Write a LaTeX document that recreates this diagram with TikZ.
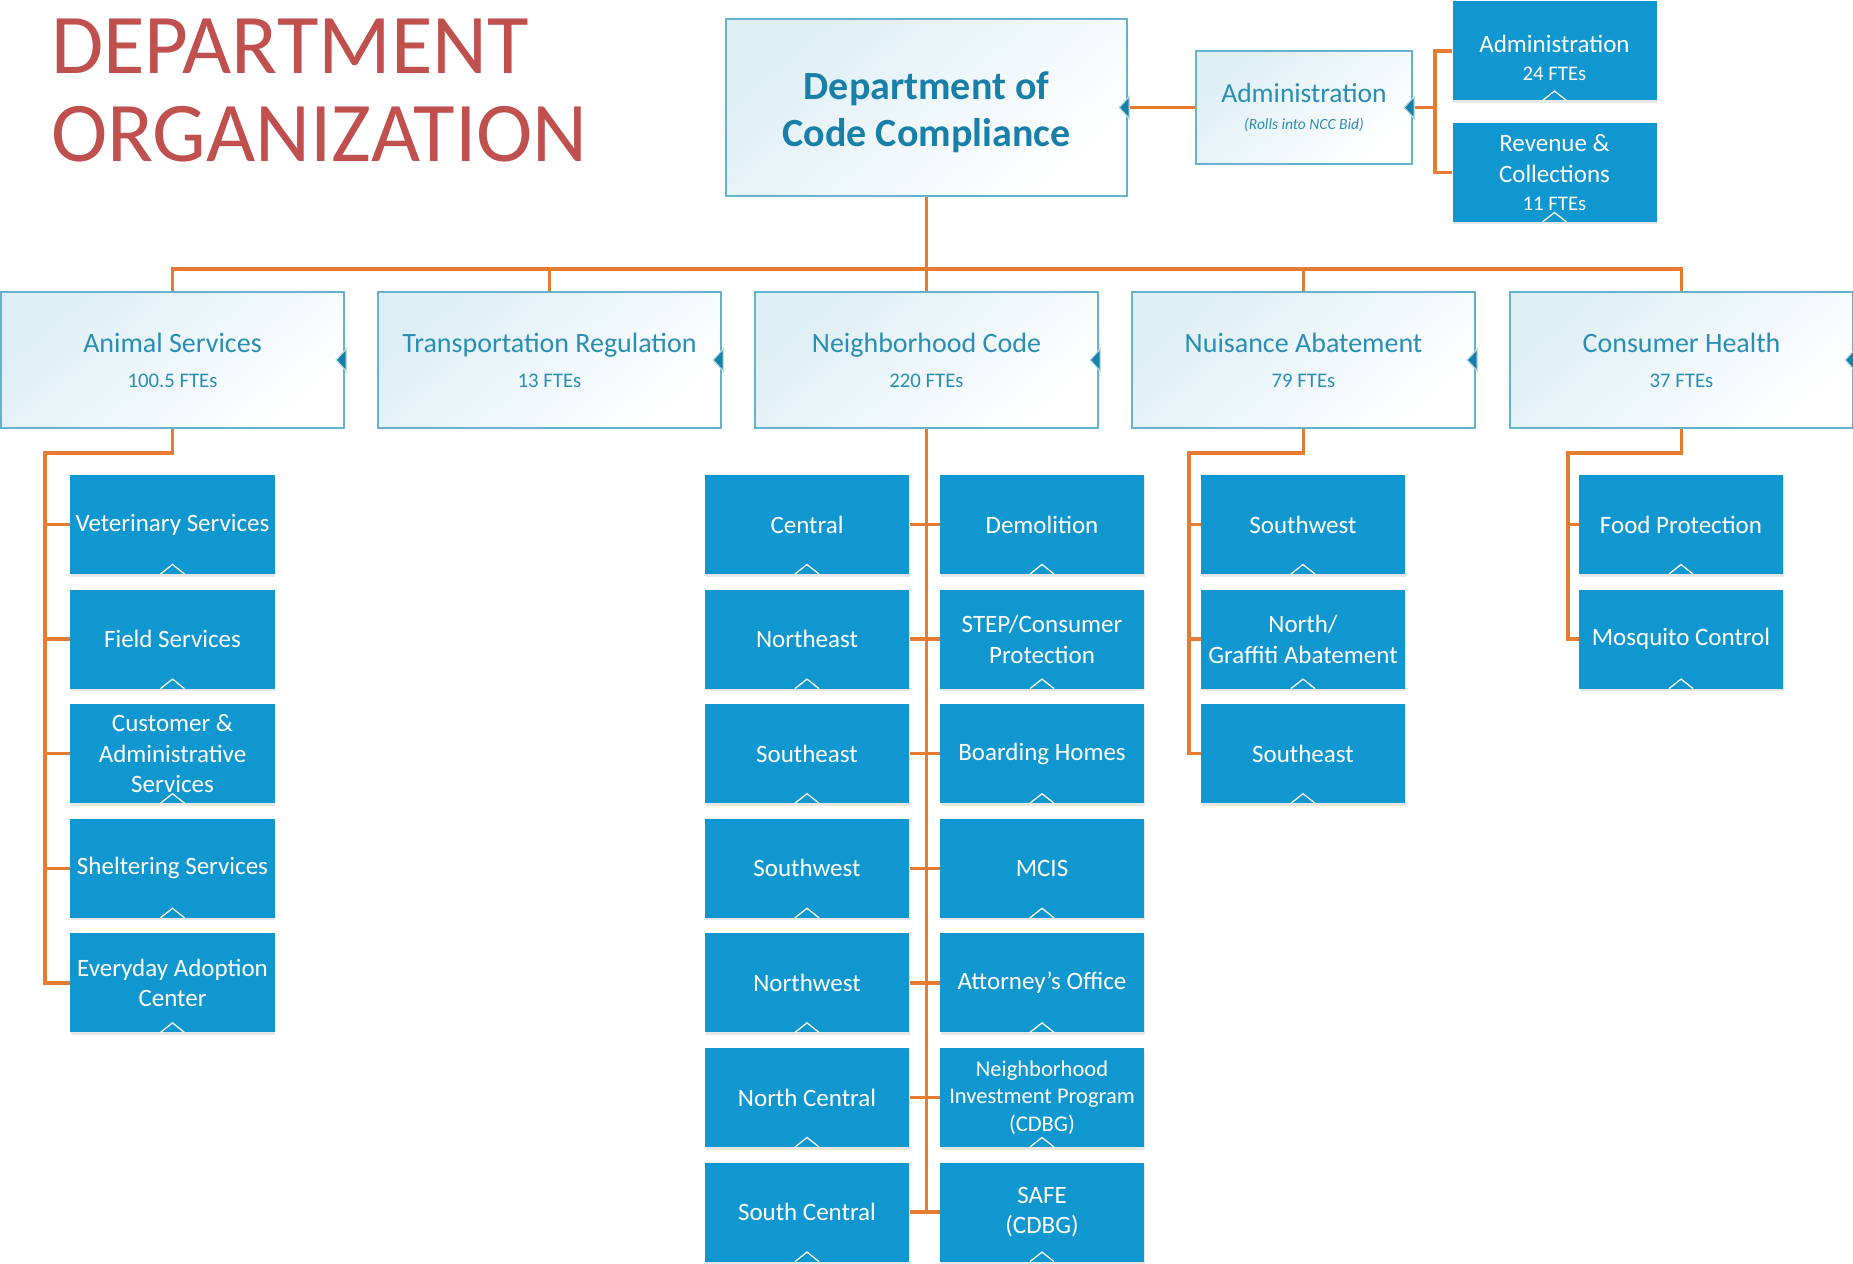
\documentclass[tikz,border=0pt]{standalone}
\usepackage{fontspec}
\setmainfont{Carlito}
\usepackage{tikz}
\usetikzlibrary{shadows}
\definecolor{ccorange}{RGB}{229,124,50}
\definecolor{ccblue}{RGB}{17,151,208}
\definecolor{ccedge}{RGB}{100,178,205}
\definecolor{cctext}{RGB}{40,142,182}
\definecolor{ccdark}{RGB}{24,128,168}
\definecolor{ccred}{RGB}{192,80,77}
\newcommand\fte[1]{\\[-1pt]{\fontsize{8.3}{10}\selectfont#1 FTEs}}

\begin{document}
\begin{tikzpicture}[x=0.4pt,y=-0.4pt,inner sep=0pt]
  \useasboundingbox(0,0)rectangle(1853,1264);
  \tikzstyle{h}=[rectangle,draw=ccedge,line width=0.9pt,top color=ccedge!22,bottom color=white,shading angle=40,text=cctext,align=center,minimum width=137.2pt,minimum height=54.4pt]
  \tikzstyle{c}=[rectangle,fill=ccblue,text=white,align=center,minimum width=81.6pt,minimum height=39.6pt,font=\fontsize{10}{12.3}\selectfont,drop shadow={shadow xshift=0.3pt,shadow yshift=-1pt,opacity=0.2},path picture={\draw[white,line width=0.5pt]([xshift=-4.8pt]path picture bounding box.south)--++(4.8pt,3.8pt)--++(4.8pt,-3.8pt);}]
  \tikzstyle{cs}=[c,font=\fontsize{9}{11.1}\selectfont]
  \tikzstyle{e}=[draw=ccorange,line width=1.4pt]
  \tikzstyle{m}=[fill=ccdark,draw=ccedge!45,line width=0.5pt]
  % title
  \node[anchor=north west,text=ccred,align=left,font=\fontsize{34}{35}\selectfont](title)at(50.5,18.5){DEPARTMENT\\ORGANIZATION};
  % department and administration
  \node[h,minimum width=160.4pt,minimum height=70.8pt,text=ccdark,text height=34pt,font=\bfseries\fontsize{16}{19}\selectfont](dcc)at(926.5,107.5){Department of\\Code Compliance};
  \node[h,minimum width=86.4pt,minimum height=45.2pt,font=\fontsize{11}{11}\selectfont](adm)at(1304,107.5){Administration\\{\fontsize{6.2}{7}\itshape(Rolls into NCC Bid)}};
  \node[c,text height=23.9pt](admsub)at(1554.5,51){Administration\fte{24}};
  \node[c](rev)at(1554.5,172.5){Revenue \&\\Collections\fte{11}};
  % divisions
  \foreach\n/\x/\l/\f in{anim/172.5/Animal Services/100.5,trans/549.5/Transportation Regulation/13,nbh/926.5/Neighborhood Code/220,nuis/1303.5/Nuisance Abatement/79,cons/1681.5/Consumer Health/37}{\node[h,font=\fontsize{11.2}{15}\selectfont](\n)at(\x,360){\l\fte{\f}};}
  % sections
  \foreach\l[count=\i from 0]in{Veterinary Services,Field Services,{Customer \&\\Administrative\\Services},Sheltering Services,{Everyday Adoption\\Center}}{\node[c](an\i)at(172.5,524.5+114.6*\i){\l};}
  \foreach\l[count=\i from 0]in{Central,Northeast,Southeast,Southwest,Northwest,North Central,South Central}{\node[c](nl\i)at(807,524.5+114.6*\i){\l};}
  \foreach\l/\o[count=\i from 0]in{Demolition/c,{STEP/Consumer\\Protection}/c,Boarding Homes/c,MCIS/c,Attorney’s Office/c,{Neighborhood\\Investment Program\\(CDBG)}/cs,{SAFE\\(CDBG)}/c}{\node[\o](nr\i)at(1042,524.5+114.6*\i){\l};}
  \foreach\l[count=\i from 0]in{Southwest,{North/\\Graffiti Abatement},Southeast}{\node[c](nu\i)at(1303,524.5+114.6*\i){\l};}
  \foreach\l[count=\i from 0]in{Food Protection,Mosquito Control}{\node[c](co\i)at(1681,524.5+114.6*\i){\l};}
  % connectors
  \coordinate(bus)at(926.5,269);
  \coordinate(admbus)at(1435,107.5);
  \coordinate(anbus)at(45,453);
  \coordinate(nubus)at(1189,453);
  \coordinate(cobus)at(1568,453);
  \draw[e](adm.west)--(dcc.east);
  \foreach\n in{admsub,rev}{\draw[e](adm.east)--(admbus)|-(\n.west);}
  \foreach\n in{anim,trans,nbh,nuis,cons}{\draw[e](dcc.south)--(dcc.south|-bus)-|(\n.north);}
  \foreach\i in{0,...,4}{\draw[e](anim.south)|-(anbus)|-(an\i.west);}
  \draw[e](nbh.south)--(nbh.south|-nr6.west)--(nr6.west);
  \foreach\i in{0,...,6}{\draw[e](nl\i.east)--(nr\i.west);}
  \foreach\i in{0,1,2}{\draw[e](nuis.south)|-(nubus)|-(nu\i.west);}
  \foreach\i in{0,1}{\draw[e](cons.south)|-(cobus)|-(co\i.west);}
  % collapse marks
  \foreach\n in{dcc,adm,anim,trans,nbh,nuis,cons}{\path[m](\n.east)++(1,-11)--++(-10,11)--++(10,11)--cycle;}
\end{tikzpicture}
\end{document}
